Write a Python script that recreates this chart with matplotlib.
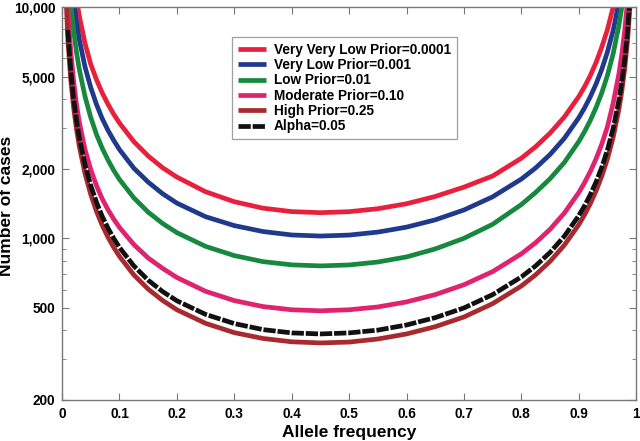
import numpy as np
import matplotlib
matplotlib.use("Agg")
import matplotlib.pyplot as plt
from matplotlib.ticker import FixedLocator, FixedFormatter, NullFormatter

plt.rcParams['font.family'] = ['Liberation Sans', 'DejaVu Sans']
plt.rcParams['font.weight'] = 'bold'

# allele frequency grid
freq = [0.005, 0.01, 0.015, 0.02, 0.025, 0.03, 0.04, 0.05, 0.06, 0.07, 0.08, 0.09,
        0.1, 0.125, 0.15, 0.175, 0.2, 0.25, 0.3, 0.35, 0.4, 0.45, 0.5, 0.55, 0.6,
        0.65, 0.7, 0.75, 0.8, 0.825, 0.85, 0.875, 0.9, 0.91, 0.92, 0.93, 0.94,
        0.95, 0.96, 0.97, 0.975, 0.98, 0.985, 0.99]

very_very_low = [52800, 26600, 17900, 13500, 10900, 9140, 6960, 5650, 4850, 4250, 3800, 3440,
                 3150, 2620, 2270, 2020, 1840, 1590, 1440, 1350, 1305, 1291, 1304, 1343, 1411,
                 1517, 1665, 1860, 2220, 2490, 2850, 3350, 4100, 4520, 5050, 5750, 6700,
                 8000, 10000, 13300, 15900, 19800, 26300, 39200]
very_low = [41800, 21100, 14200, 10700, 8620, 7240, 5510, 4480, 3790, 3290, 2930, 2650,
            2420, 2010, 1750, 1560, 1420, 1240, 1135, 1070, 1034, 1023, 1033, 1064, 1118,
            1202, 1326, 1512, 1804, 2016, 2304, 2709, 3320, 3660, 4090, 4640, 5370,
            6400, 7940, 10500, 12600, 15600, 20800, 31100]
low = [31100, 15700, 10500, 7950, 6410, 5380, 4100, 3330, 2810, 2450, 2180, 1966,
       1797, 1496, 1298, 1160, 1058, 923, 842, 793, 768, 760, 767, 790, 831,
       900, 1000, 1150, 1400, 1580, 1810, 2130, 2620, 2890, 3230, 3670, 4250,
       5070, 6300, 8340, 9980, 12400, 16500, 24600]
moderate = [19500, 9800, 6500, 4800, 3800, 3180, 2420, 1980, 1690, 1480, 1330, 1210,
            1115, 940, 822, 742, 677, 590, 538, 507, 491, 486, 491, 505, 531,
            571, 630, 718, 857, 958, 1094, 1287, 1577, 1739, 1942, 2203, 2550,
            3039, 3850, 5150, 6250, 7900, 10700, 16500]
high = [14400, 7270, 4890, 3690, 2976, 2500, 1903, 1546, 1306, 1137, 1011, 913,
        835, 695, 603, 539, 491, 429, 391, 369, 357, 353, 356, 367, 386,
        415, 457, 522, 622, 696, 795, 935, 1145, 1263, 1410, 1600, 1853,
        2207, 2739, 3625, 4338, 5401, 7180, 10730]
# alpha line starts a little in from the edge
alpha_freq = freq[1:]
alpha = [7950, 5340, 4040, 3250, 2730, 2080, 1690, 1430, 1243, 1106, 999,
         913, 760, 659, 589, 537, 469, 428, 403, 390, 386, 390, 401, 422,
         454, 500, 571, 681, 761, 869, 1022, 1253, 1381, 1542, 1749, 2026,
         2414, 2995, 3964, 4744, 5906, 7851, 11730]

labels = ["Very Very Low Prior=0.0001", "Very Low Prior=0.001", "Low Prior=0.01",
          "Moderate Prior=0.10", "High Prior=0.25", "Alpha=0.05"]
colors = ["#e8203c", "#1f3a8c", "#17893f", "#e0236e", "#a82a2e", "#111111"]

yticks = [200, 500, 1000, 2000, 5000, 10000]
yticklabels = ["200", "500", "1,000", "2,000", "5,000", "10,000"]
xticks = [0, 0.1, 0.2, 0.3, 0.4, 0.5, 0.6, 0.7, 0.8, 0.9, 1]
xticklabels = ["0", "0.1", "0.2", "0.3", "0.4", "0.5", "0.6", "0.7", "0.8", "0.9", "1"]

fig = plt.figure(figsize=(6.4, 4.41), dpi=100)
ax = fig.add_axes([0.097, 0.093, 0.897, 0.891])

lw = 3.4
series = [very_very_low, very_low, low, moderate, high]
for vals, lab, c in zip(series, labels[:5], colors[:5]):
    ax.plot(freq, vals, color=c, lw=lw, label=lab, solid_capstyle='butt',
            solid_joinstyle='round')
ax.plot(alpha_freq, alpha, color=colors[5], lw=lw, label=labels[5],
        dashes=(2.6, 0.4), dash_capstyle='butt')

ax.set_yscale('log')
ax.set_xlim(0, 1)
ax.set_ylim(200, 10000)

ax.yaxis.set_major_locator(FixedLocator(yticks))
ax.yaxis.set_major_formatter(FixedFormatter(yticklabels))
minor = [300, 400, 600, 700, 800, 900, 3000, 4000, 6000, 7000, 8000, 9000]
ax.yaxis.set_minor_locator(FixedLocator(minor))
ax.yaxis.set_minor_formatter(NullFormatter())
ax.set_xticks(xticks)
ax.set_xticklabels(xticklabels)

ax.tick_params(which='both', direction='in', top=True, right=True,
               color='#777777', labelsize=9.8, pad=5)
ax.tick_params(which='major', length=5)
ax.tick_params(which='minor', length=3)
for t in ax.get_xticklabels() + ax.get_yticklabels():
    t.set_fontweight('bold')
for s in ax.spines.values():
    s.set_color('#777777')
    s.set_linewidth(1.0)

ax.set_xlabel("Allele frequency", fontsize=12.5, fontweight='bold', labelpad=3)
ax.set_ylabel("Number of cases", fontsize=12.5, fontweight='bold')
ax.yaxis.set_label_coords(-0.083, 0.495)

leg = ax.legend(loc='upper left', bbox_to_anchor=(0.296, 0.924), borderaxespad=0,
                frameon=True, fancybox=False, edgecolor='#888888', handlelength=2.1,
                handletextpad=0.55, labelspacing=0.1, borderpad=0.42,
                prop={'weight': 'bold', 'size': 9.8})
leg.get_frame().set_linewidth(0.9)

fig.savefig("out.png", dpi=100)
